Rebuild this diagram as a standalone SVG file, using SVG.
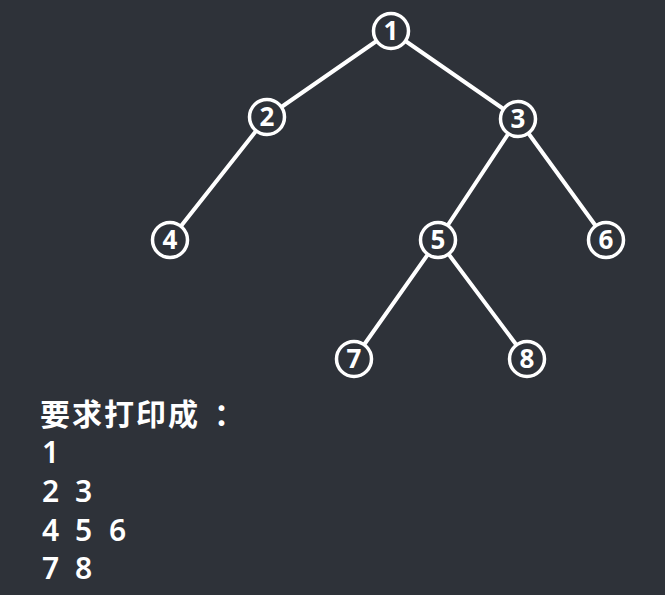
<svg xmlns="http://www.w3.org/2000/svg" width="665" height="595" viewBox="0 0 665 595">
<style>
.edge{stroke:#ffffff;stroke-width:4;stroke-linecap:round}
.node circle{fill:#2e3239;stroke:#ffffff;stroke-width:3.5}
.node text{fill:#ffffff;font-family:"Noto Sans","DejaVu Sans",sans-serif;font-weight:bold;font-size:26px;text-anchor:middle}
.out{fill:#ffffff;font-family:"Noto Sans","Noto Sans CJK SC",sans-serif;font-size:30px;font-weight:600}
.cjk{fill:#ffffff;font-family:"Noto Sans CJK SC",sans-serif;font-size:30px;letter-spacing:2px;font-weight:600}
</style>
<rect width="665" height="595" fill="#2e3239"/>
<g id="connectors">
<line class="edge" x1="391" y1="31" x2="267" y2="117"/>
<line class="edge" x1="391" y1="31" x2="518" y2="119"/>
<line class="edge" x1="267" y1="117" x2="170" y2="240"/>
<line class="edge" x1="518" y1="119" x2="438" y2="240"/>
<line class="edge" x1="518" y1="119" x2="606" y2="240"/>
<line class="edge" x1="438" y1="240" x2="354" y2="359"/>
<line class="edge" x1="438" y1="240" x2="527" y2="359"/>
</g>
<g id="n1" class="node"><circle cx="391" cy="31" r="17.5"/><text x="391" y="40">1</text></g>
<g id="n2" class="node"><circle cx="267" cy="117" r="17.5"/><text x="267" y="126">2</text></g>
<g id="n3" class="node"><circle cx="518" cy="119" r="17.5"/><text x="518" y="128">3</text></g>
<g id="n4" class="node"><circle cx="170" cy="240" r="17.5"/><text x="170" y="249">4</text></g>
<g id="n5" class="node"><circle cx="438" cy="240" r="17.5"/><text x="438" y="249">5</text></g>
<g id="n6" class="node"><circle cx="606" cy="240" r="17.5"/><text x="606" y="249">6</text></g>
<g id="n7" class="node"><circle cx="354" cy="359" r="17.5"/><text x="354" y="368">7</text></g>
<g id="n8" class="node"><circle cx="527" cy="359" r="17.5"/><text x="527" y="368">8</text></g>
<g id="output">
<text class="cjk" x="40" y="425">要求打印成<tspan x="214">：</tspan></text>
<text class="out" x="42" y="463">1</text>
<text class="out" y="502"><tspan x="42">2</tspan><tspan x="75">3</tspan></text>
<text class="out" y="541"><tspan x="42">4</tspan><tspan x="75">5</tspan><tspan x="109">6</tspan></text>
<text class="out" y="579"><tspan x="42">7</tspan><tspan x="75">8</tspan></text>
</g>
</svg>
